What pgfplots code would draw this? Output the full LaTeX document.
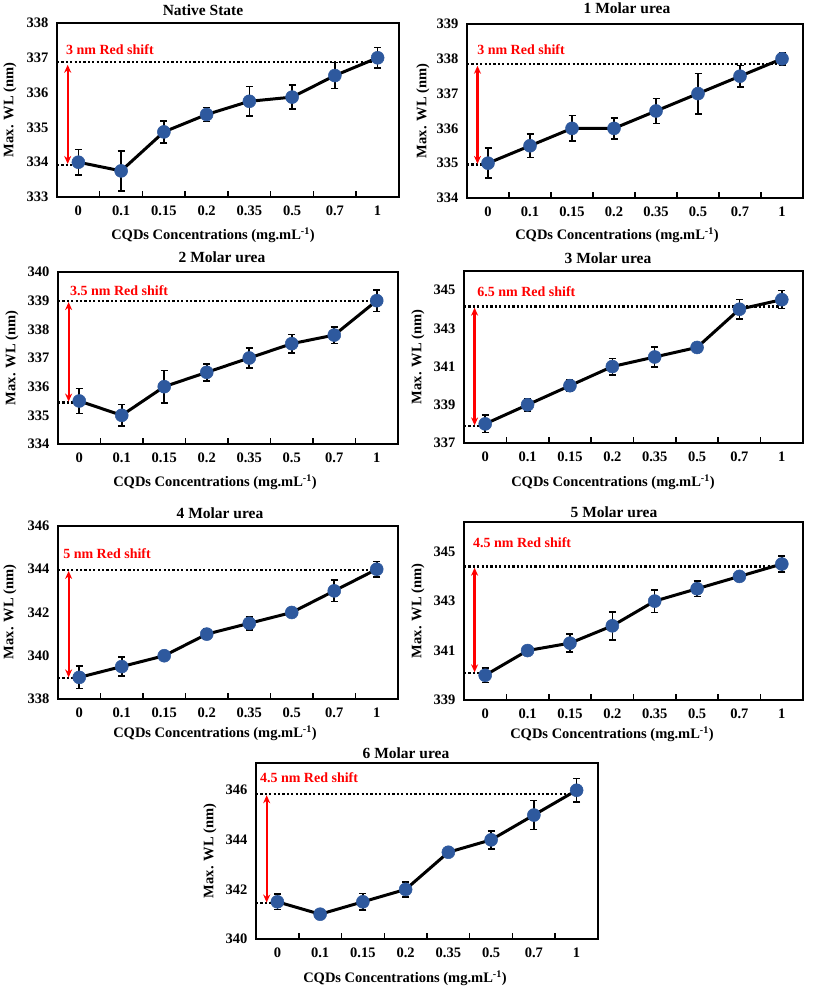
\documentclass[border=0pt]{standalone}
\usepackage{fontspec}
\setmainfont{Liberation Serif}
\usepackage{pgfplots}
\usepackage{pgfplotstable}
\pgfplotsset{compat=1.18}
\usetikzlibrary{arrows.meta}
\definecolor{mblue}{RGB}{46,89,158}

\pgfplotstableread{
x y e
0 334.0 0.37
1 333.75 0.57
2 334.87 0.31
3 335.37 0.2
4 335.75 0.43
5 335.87 0.35
6 336.49 0.37
7 337.0 0.3
}\tA
\pgfplotstableread{
x y e
0 335.0 0.43
1 335.5 0.34
2 336.0 0.37
3 336.0 0.3
4 336.5 0.36
5 337.0 0.58
6 337.5 0.31
7 338.0 0.18
}\tB
\pgfplotstableread{
x y e
0 335.5 0.43
1 335.0 0.38
2 336.0 0.57
3 336.5 0.3
4 337.0 0.35
5 337.5 0.32
6 337.8 0.29
7 339.0 0.38
}\tC
\pgfplotstableread{
x y e
0 338.0 0.45
1 339.0 0.33
2 340.0 0.3
3 341.0 0.43
4 341.5 0.53
5 342.0 0.25
6 344.0 0.5
7 344.5 0.47
}\tD
\pgfplotstableread{
x y e
0 339.0 0.52
1 339.5 0.43
2 340.0 0.15
3 341.0 0.25
4 341.5 0.3
5 342.0 0.15
6 343.0 0.49
7 344.0 0.36
}\tE
\pgfplotstableread{
x y e
0 340.0 0.3
1 341.0 0.1
2 341.3 0.37
3 342.0 0.57
4 343.0 0.46
5 343.5 0.31
6 344.0 0.15
7 344.5 0.32
}\tF
\pgfplotstableread{
x y e
0 341.5 0.31
1 341.0 0.1
2 341.5 0.33
3 342.0 0.3
4 343.5 0.1
5 344.0 0.36
6 345.0 0.58
7 346.0 0.47
}\tG

\newcommand{\tickfont}{\fontsize{14.5}{16}\selectfont\bfseries}
\newcommand{\labfont}{\fontsize{14.5}{16}\selectfont\bfseries}
\newcommand{\titfont}{\fontsize{15.5}{17}\selectfont\bfseries}
\newcommand{\redfont}{\fontsize{14}{16}\selectfont\bfseries}
\newcommand{\xlab}{CQDs Concentrations (mg.mL\textsuperscript{-1})}

\pgfplotsset{
  panel/.style={
    scale only axis, anchor=south west,
    xmin=-0.5, xmax=7.5,
    xtick={0,...,7},
    xticklabels={0,0.1,0.15,0.2,0.35,0.5,0.7,1},
    minor xtick={0.5,1.5,...,6.5},
    major x tick style={draw=none},
    minor x tick style={black, line width=1.5pt},
    minor tick length=6pt,
    xtick pos=bottom,
    ytick style={draw=none},
    axis line style={line width=2.4pt},
    tick label style={font=\tickfont},
    /pgf/number format/assume math mode=true,
    xticklabel style={yshift=-5pt},
    yticklabel style={xshift=-5pt},
    clip=false,
  },
  wl/.style={black, line width=3pt, mark=*, mark size=6.5pt,
    mark options={fill=mblue, draw=mblue, solid, line width=0.5pt},
    error bars/y dir=both, error bars/y explicit,
    error bars/error bar style={line width=1.6pt, black},
    error bars/error mark options={rotate=90, mark size=3.5pt, line width=1.6pt, black}},
  dline/.style={black, line width=2.3pt, dash pattern=on 2.2pt off 2.2pt, forget plot},
  rarrow/.style={red, line width=2.2pt, {Stealth[length=8pt,width=7pt]}-{Stealth[length=8pt,width=7pt]}, forget plot},
}

\begin{document}
\begin{tikzpicture}[x=1pt,y=1pt]
\useasboundingbox (0,0) rectangle (813,988);

% Panel 1
\begin{axis}[panel, at={(57pt,791pt)}, width=342pt, height=174pt, ymin=333, ymax=338, ytick={333,...,338}]
\addplot[dline] coordinates {(-0.5,333.92) (0,333.92)};
\addplot[dline] coordinates {(-0.5,336.87) (7,336.87)};
\addplot[rarrow] coordinates {(-0.25,333.95) (-0.25,336.80)};
\addplot[wl] table[x=x,y=y,y error=e] {\tA};
\node[anchor=west, inner sep=0pt, text=red, font=\redfont] at (axis cs:-0.29,337.23) {3 nm Red shift};
\end{axis}

% Panel 2
\begin{axis}[panel, at={(467pt,790pt)}, width=336pt, height=174pt, ymin=334, ymax=339, ytick={334,...,339}]
\addplot[dline] coordinates {(-0.5,334.96) (0,334.96)};
\addplot[dline] coordinates {(-0.5,337.85) (7,337.85)};
\addplot[rarrow] coordinates {(-0.25,334.98) (-0.25,337.80)};
\addplot[wl] table[x=x,y=y,y error=e] {\tB};
\node[anchor=west, inner sep=0pt, text=red, font=\redfont] at (axis cs:-0.26,338.27) {3 nm Red shift};
\end{axis}

% Panel 3
\begin{axis}[panel, at={(58pt,544pt)}, width=340pt, height=172pt, ymin=334, ymax=340, ytick={334,...,340}]
\addplot[dline] coordinates {(-0.5,335.45) (0,335.45)};
\addplot[dline] coordinates {(-0.5,339.0) (7,339.0)};
\addplot[rarrow] coordinates {(-0.25,335.48) (-0.25,338.95)};
\addplot[wl] table[x=x,y=y,y error=e] {\tC};
\node[anchor=west, inner sep=0pt, text=red, font=\redfont] at (axis cs:-0.22,339.35) {3.5 nm Red shift};
\end{axis}

% Panel 4
\begin{axis}[panel, at={(464pt,545pt)}, width=339pt, height=172pt, ymin=337, ymax=346, ytick={337,339,341,343,345}]
\addplot[dline] coordinates {(-0.5,337.89) (0,337.89)};
\addplot[dline] coordinates {(-0.5,344.15) (7,344.15)};
\addplot[rarrow] coordinates {(-0.25,337.92) (-0.25,344.08)};
\addplot[wl] table[x=x,y=y,y error=e] {\tD};
\node[anchor=west, inner sep=0pt, text=red, font=\redfont] at (axis cs:-0.19,344.9) {6.5 nm Red shift};
\end{axis}

% Panel 5
\begin{axis}[panel, at={(58pt,289pt)}, width=340pt, height=173pt, ymin=338, ymax=346, ytick={338,340,342,344,346}]
\addplot[dline] coordinates {(-0.5,338.98) (0,338.98)};
\addplot[dline] coordinates {(-0.5,343.97) (7,343.97)};
\addplot[rarrow] coordinates {(-0.25,339.0) (-0.25,343.92)};
\addplot[wl] table[x=x,y=y,y error=e] {\tE};
\node[anchor=west, inner sep=0pt, text=red, font=\redfont] at (axis cs:-0.38,344.7) {5 nm Red shift};
\end{axis}

% Panel 6
\begin{axis}[panel, at={(464pt,288pt)}, width=339pt, height=178pt, ymin=339, ymax=346.2, ytick={339,341,343,345}]
\addplot[dline] coordinates {(-0.5,340.1) (0,340.1)};
\addplot[dline] coordinates {(-0.5,344.4) (7,344.4)};
\addplot[rarrow] coordinates {(-0.25,340.12) (-0.25,344.35)};
\addplot[wl] table[x=x,y=y,y error=e] {\tF};
\node[anchor=west, inner sep=0pt, text=red, font=\redfont] at (axis cs:-0.29,345.36) {4.5 nm Red shift};
\end{axis}

% Panel 7
\begin{axis}[panel, at={(256pt,49pt)}, width=342pt, height=176pt, ymin=340, ymax=347.1, ytick={340,342,344,346}]
\addplot[dline] coordinates {(-0.5,341.45) (0,341.45)};
\addplot[dline] coordinates {(-0.5,345.85) (7,345.85)};
\addplot[rarrow] coordinates {(-0.25,341.47) (-0.25,345.8)};
\addplot[wl] table[x=x,y=y,y error=e] {\tG};
\node[anchor=west, inner sep=0pt, text=red, font=\redfont] at (axis cs:-0.41,346.5) {4.5 nm Red shift};
\end{axis}

% titles
\node[font=\titfont] at (203,978) {Native State};
\node[font=\titfont] at (627,980) {1 Molar urea};
\node[font=\titfont] at (222,731) {2 Molar urea};
\node[font=\titfont] at (608,730) {3 Molar urea};
\node[font=\titfont] at (220,475) {4 Molar urea};
\node[font=\titfont] at (614,476) {5 Molar urea};
\node[font=\titfont] at (406,235) {6 Molar urea};
% x labels
\node[font=\labfont] at (213,753) {\xlab};
\node[font=\labfont] at (617,753) {\xlab};
\node[font=\labfont] at (215,506) {\xlab};
\node[font=\labfont] at (613,506) {\xlab};
\node[font=\labfont] at (215,255) {\xlab};
\node[font=\labfont] at (612,254) {\xlab};
\node[font=\labfont] at (405,10) {\xlab};
% y labels
\node[font=\labfont, rotate=90] at (10,878) {Max. WL (nm)};
\node[font=\labfont, rotate=90] at (423,877) {Max. WL (nm)};
\node[font=\labfont, rotate=90] at (12,630) {Max. WL (nm)};
\node[font=\labfont, rotate=90] at (418,631) {Max. WL (nm)};
\node[font=\labfont, rotate=90] at (10,376) {Max. WL (nm)};
\node[font=\labfont, rotate=90] at (418,377) {Max. WL (nm)};
\node[font=\labfont, rotate=90] at (210,137) {Max. WL (nm)};
\end{tikzpicture}
\end{document}
